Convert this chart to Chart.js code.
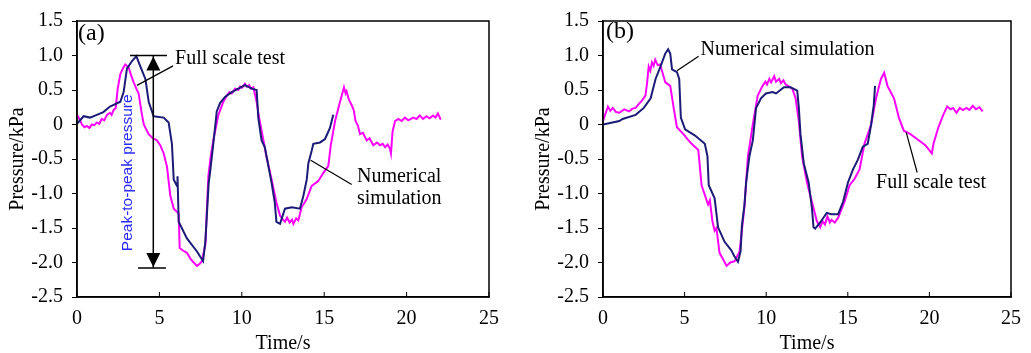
<!DOCTYPE html>
<html>
<head>
<meta charset="utf-8">
<script src="https://cdn.jsdelivr.net/npm/chart.js@4"></script>
<style>
  body { margin: 0; background: #fff; overflow: hidden; }
  #wrap { position: relative; width: 1031px; height: 353px; overflow: hidden; }
  canvas { position: absolute; top: 0; }
</style>
</head>
<body>
<div id="wrap">
  <canvas id="chartA" width="515" height="357" style="left:0"></canvas>
  <canvas id="chartB" width="505" height="357" style="left:526px"></canvas>
</div>
<script>
// axis ticks
const xTicks = [0, 5, 10, 15, 20, 25];
const yTicks = [-2.5, -2.0, -1.5, -1.0, -0.5, 0, 0.5, 1.0, 1.5];

// (a) full scale test
const timeTestA = [0, 0.15, 0.3, 0.45, 0.6, 0.75, 0.9, 1.05, 1.2, 1.35, 1.5, 1.65, 1.82, 2.0, 2.1, 2.22, 2.35, 2.47, 2.63, 2.8, 2.93, 3.13, 3.3, 3.44, 3.6, 3.74, 3.9, 4.05, 4.35, 4.6, 4.85, 5.05, 5.26, 5.46, 5.66, 5.87, 6.17, 6.23, 6.45, 6.67, 6.9, 7.08, 7.28, 7.45, 7.58, 7.79, 7.97, 8.12, 8.27, 8.58, 8.88, 9.1, 9.25, 9.39, 9.6, 9.79, 9.9, 10.0, 10.19, 10.3, 10.45, 10.55, 10.7, 10.9, 11.05, 11.2, 11.5, 11.81, 12.1, 12.32, 12.5, 12.62, 12.75, 12.9, 13.05, 13.13, 13.3, 13.43, 13.63, 13.94, 14.24, 14.64, 14.95, 15.25, 15.4, 15.66, 15.96, 16.2, 16.3, 16.36, 16.5, 16.67, 16.8, 16.9, 17.05, 17.17, 17.35, 17.58, 17.75, 17.98, 18.2, 18.39, 18.55, 18.7, 18.85, 18.99, 19.05, 19.15, 19.3, 19.5, 19.7, 19.9, 20.1, 20.4, 20.6, 20.8, 21.0, 21.2, 21.4, 21.6, 21.75, 21.9, 22.07];
const presTestA = [0.14, 0.08, 0.0, -0.04, -0.02, -0.05, 0.0, -0.01, 0.03, 0.01, 0.08, 0.06, 0.14, 0.17, 0.14, 0.21, 0.24, 0.52, 0.73, 0.82, 0.87, 0.83, 0.7, 0.61, 0.52, 0.45, 0.2, 0.0, -0.14, -0.2, -0.23, -0.3, -0.42, -0.61, -1.03, -1.22, -1.29, -1.79, -1.83, -1.86, -1.95, -2.0, -2.05, -2.02, -1.98, -1.74, -0.75, -0.45, -0.23, 0.14, 0.33, 0.42, 0.47, 0.45, 0.52, 0.5, 0.55, 0.53, 0.59, 0.55, 0.57, 0.52, 0.54, 0.33, 0.1, -0.09, -0.47, -0.8, -1.13, -1.32, -1.38, -1.41, -1.35, -1.42, -1.38, -1.44, -1.36, -1.39, -1.2, -1.08, -0.89, -0.82, -0.7, -0.6, -0.3, 0.05, 0.33, 0.54, 0.45, 0.48, 0.36, 0.28, 0.2, 0.05, -0.02, -0.14, -0.12, -0.23, -0.2, -0.3, -0.26, -0.3, -0.28, -0.33, -0.29, -0.35, -0.42, -0.1, 0.05, 0.08, 0.05, 0.1, 0.06, 0.1, 0.08, 0.13, 0.08, 0.12, 0.09, 0.13, 0.1, 0.16, 0.07];

// (a) numerical simulation
const timeSimA = [0, 0.4, 0.8, 1.2, 1.6, 2.0, 2.63, 2.83, 3.03, 3.34, 3.6, 3.83, 4.15, 4.35, 4.65, 5.26, 5.56, 5.76, 5.87, 6.07, 6.1, 6.17, 6.67, 7.28, 7.65, 7.79, 7.99, 8.07, 8.27, 8.48, 8.68, 8.98, 9.39, 9.79, 10.19, 10.6, 10.9, 11.0, 11.2, 11.4, 11.81, 12.0, 12.1, 12.32, 12.62, 13.03, 13.53, 13.74, 13.94, 14.04, 14.24, 14.34, 14.75, 15.05, 15.35, 15.55];
const presSimA = [0.01, 0.12, 0.1, 0.14, 0.18, 0.26, 0.33, 0.47, 0.81, 0.92, 0.99, 0.85, 0.66, 0.33, 0.12, 0.1, 0.03, -0.28, -0.8, -0.89, -0.75, -1.41, -1.65, -1.84, -1.98, -1.69, -0.85, -0.7, -0.28, 0.19, 0.31, 0.4, 0.47, 0.52, 0.57, 0.52, 0.5, 0.1, -0.23, -0.33, -0.85, -1.13, -1.41, -1.44, -1.22, -1.2, -1.22, -1.03, -0.8, -0.56, -0.38, -0.28, -0.26, -0.21, -0.05, 0.14];

// (b) full scale test
const timeTestB = [0, 0.3, 0.45, 0.6, 0.8, 1.0, 1.3, 1.6, 1.8, 2.0, 2.2, 2.4, 2.6, 2.7, 2.8, 2.9, 3.0, 3.1, 3.2, 3.35, 3.5, 3.82, 4.12, 4.33, 4.53, 4.93, 5.2, 5.43, 5.84, 6.04, 6.44, 6.55, 6.7, 6.84, 6.95, 7.14, 7.35, 7.57, 7.8, 8.07, 8.37, 8.67, 8.88, 9.18, 9.48, 9.78, 9.95, 10.05, 10.19, 10.3, 10.49, 10.6, 10.79, 10.9, 11.05, 11.19, 11.4, 11.6, 11.8, 12.0, 12.2, 12.5, 12.8, 13.1, 13.31, 13.45, 13.6, 13.75, 13.9, 14.0, 14.2, 14.41, 14.8, 15.11, 15.41, 15.72, 16.02, 16.43, 16.73, 17.03, 17.23, 17.43, 17.83, 18.13, 18.43, 18.84, 19.24, 19.75, 20.15, 20.25, 20.55, 20.85, 21.09, 21.3, 21.45, 21.66, 21.86, 22.05, 22.27, 22.45, 22.66, 22.85, 23.06, 23.26];
const presTestB = [0.05, 0.26, 0.2, 0.24, 0.18, 0.17, 0.22, 0.19, 0.23, 0.24, 0.3, 0.35, 0.42, 0.6, 0.84, 0.78, 0.9, 0.85, 0.94, 0.86, 0.87, 0.61, 0.56, 0.24, -0.04, -0.14, -0.22, -0.28, -0.37, -0.88, -1.16, -1.1, -1.4, -1.54, -1.5, -1.86, -1.95, -2.05, -2.0, -1.98, -1.84, -1.18, -0.46, 0.0, 0.42, 0.56, 0.62, 0.58, 0.66, 0.61, 0.7, 0.62, 0.66, 0.6, 0.64, 0.58, 0.55, 0.52, 0.38, 0.05, -0.46, -0.84, -1.12, -1.4, -1.49, -1.4, -1.45, -1.33, -1.42, -1.38, -1.42, -1.35, -1.12, -0.88, -0.79, -0.65, -0.28, 0.0, 0.38, 0.66, 0.75, 0.56, 0.38, 0.1, -0.09, -0.14, -0.21, -0.3, -0.42, -0.28, -0.04, 0.14, 0.26, 0.22, 0.24, 0.17, 0.24, 0.21, 0.24, 0.21, 0.27, 0.22, 0.25, 0.19];

// (b) numerical simulation
const timeSimB = [0, 1.0, 1.2, 2.0, 2.5, 2.92, 3.22, 3.52, 3.82, 3.99, 4.12, 4.23, 4.53, 4.67, 4.77, 5.03, 5.64, 6.24, 6.4, 6.48, 6.84, 7.05, 7.45, 7.85, 8.05, 8.27, 8.43, 8.51, 8.67, 8.77, 8.97, 9.18, 9.38, 9.68, 9.98, 10.39, 10.6, 11.09, 11.49, 11.9, 12.0, 12.1, 12.3, 12.6, 12.8, 12.9, 13.0, 13.31, 13.71, 13.99, 14.41, 14.71, 15.01, 15.32, 15.62, 15.92, 16.22, 16.43, 16.59, 16.67];
const presSimB = [0.0, 0.05, 0.08, 0.14, 0.24, 0.38, 0.66, 0.84, 1.03, 1.09, 1.03, 0.8, 0.76, 0.66, 0.1, -0.07, -0.16, -0.28, -0.46, -0.88, -1.07, -1.49, -1.7, -1.82, -1.91, -1.99, -1.84, -1.47, -1.16, -0.84, -0.46, -0.23, 0.24, 0.38, 0.45, 0.47, 0.45, 0.54, 0.54, 0.49, 0.24, -0.14, -0.56, -0.84, -1.21, -1.49, -1.51, -1.42, -1.28, -1.3, -1.3, -1.12, -0.84, -0.65, -0.51, -0.32, -0.28, 0.0, 0.28, 0.56];

const TEST_COLOR = '#ff00ff';
const SIM_COLOR = '#1c1c78';
const SERIF = '"Liberation Serif", "Times New Roman", serif';

function pts(xs, ys) {
  return xs.map((x, i) => ({ x, y: ys[i] }));
}

// frame, inward x ticks and the text notes
const notesPlugin = {
  id: 'notes',
  afterDraw(chart) {
    const ctx = chart.ctx;
    const { x, y } = chart.scales;
    const a = chart.chartArea;
    const notes = chart.options.plugins.notes;
    ctx.save();
    ctx.strokeStyle = '#000';
    ctx.lineWidth = 1.5;
    ctx.strokeRect(a.left, a.top, a.right - a.left, a.bottom - a.top);
    ctx.lineWidth = 1;
    xTicks.forEach(t => {
      const px = x.getPixelForValue(t);
      ctx.beginPath();
      ctx.moveTo(px, a.bottom);
      ctx.lineTo(px, a.bottom - 5);
      ctx.stroke();
    });

    const P = (dx, dy) => [x.getPixelForValue(dx), y.getPixelForValue(dy)];
    ctx.fillStyle = '#000';
    ctx.textBaseline = 'middle';
    ctx.textAlign = 'left';
    ctx.font = '24px ' + SERIF;
    ctx.fillText(notes.label[0], ...P(notes.label[1], notes.label[2]));

    ctx.font = '20px ' + SERIF;
    notes.texts.forEach(t => ctx.fillText(t[0], ...P(t[1], t[2])));
    ctx.lineWidth = 1.2;
    notes.leaders.forEach(l => {
      ctx.beginPath();
      ctx.moveTo(...P(l[0], l[1]));
      ctx.lineTo(...P(l[2], l[3]));
      ctx.stroke();
    });

    if (notes.peak) {
      const pk = notes.peak;
      const [cx, top] = P(pk.x, pk.top);
      const bot = y.getPixelForValue(pk.bottom);
      ctx.lineWidth = 1.5;
      ctx.beginPath();
      ctx.moveTo(x.getPixelForValue(pk.topSpan[0]), top);
      ctx.lineTo(x.getPixelForValue(pk.topSpan[1]), top);
      ctx.moveTo(x.getPixelForValue(pk.botSpan[0]), bot);
      ctx.lineTo(x.getPixelForValue(pk.botSpan[1]), bot);
      ctx.moveTo(cx, top);
      ctx.lineTo(cx, bot);
      ctx.stroke();
      ctx.beginPath();
      ctx.moveTo(cx, top + 1);
      ctx.lineTo(cx - 7, top + 15);
      ctx.lineTo(cx + 7, top + 15);
      ctx.closePath();
      ctx.moveTo(cx, bot - 1);
      ctx.lineTo(cx - 7, bot - 15);
      ctx.lineTo(cx + 7, bot - 15);
      ctx.closePath();
      ctx.fill();
      const [tx, ty] = P(pk.textAt[0], pk.textAt[1]);
      ctx.translate(tx, ty);
      ctx.rotate(-Math.PI / 2);
      ctx.textAlign = 'center';
      ctx.fillStyle = '#2a2aff';
      ctx.font = '15.5px "Liberation Sans", Arial, sans-serif';
      ctx.fillText('Peak-to-peak pressure', 0, 0);
    }
    ctx.restore();
  }
};

function makeChart(id, testX, testY, simX, simY, padding, notes) {
  return new Chart(document.getElementById(id), {
    type: 'line',
    data: {
      datasets: [
        { label: 'Full scale test', data: pts(testX, testY), borderColor: TEST_COLOR, borderWidth: 2, pointRadius: 0, fill: false, order: 2 },
        { label: 'Numerical simulation', data: pts(simX, simY), borderColor: SIM_COLOR, borderWidth: 2, pointRadius: 0, fill: false, order: 1 }
      ]
    },
    options: {
      responsive: false,
      animation: false,
      layout: { padding },
      plugins: { legend: { display: false }, tooltip: { enabled: false }, notes },
      scales: {
        x: {
          type: 'linear', min: 0, max: 25,
          afterBuildTicks: s => { s.ticks = xTicks.map(v => ({ value: v })); },
          afterFit: s => { s.height = 60; },
          grid: { drawOnChartArea: false, drawTicks: false },
          border: { color: '#000', width: 1.5 },
          ticks: { color: '#000', padding: 10, font: { family: SERIF, size: 20 } },
          title: { display: true, text: 'Time/s', color: '#000', padding: { top: 0, bottom: 1 }, font: { family: SERIF, size: 20 } }
        },
        y: {
          min: -2.5, max: 1.5,
          afterBuildTicks: s => { s.ticks = yTicks.map(v => ({ value: v })); },
          afterFit: s => { s.width = 77; },
          grid: { drawOnChartArea: false, drawTicks: true, tickLength: 5, color: '#000' },
          border: { color: '#000', width: 1.5 },
          ticks: { color: '#000', padding: 9, font: { family: SERIF, size: 20 },
            callback: v => v === 0 ? '0' : v.toFixed(1) },
          title: { display: true, text: 'Pressure/kPa', color: '#000', padding: { top: 6, bottom: 0 }, font: { family: SERIF, size: 20 } }
        }
      }
    },
    plugins: [notesPlugin]
  });
}

makeChart('chartA', timeTestA, presTestA, timeSimA, presSimA,
  { top: 14, right: 26, left: 0, bottom: 0 },
  {
    label: ['(a)', 0.06, 1.32],
    texts: [['Full scale test', 5.95, 0.96], ['Numerical', 16.99, -0.75], ['simulation', 16.99, -1.077]],
    leaders: [[3.64, 0.567, 5.83, 0.85], [14.18, -0.517, 16.67, -0.87]],
    peak: { x: 4.63, top: 1.0, bottom: -2.08, topSpan: [3.22, 5.46], botSpan: [3.7, 5.4], textAt: [3.09, -0.7] }
  });

makeChart('chartB', timeTestB, presTestB, timeSimB, presSimB,
  { top: 12, right: 14, left: 0, bottom: 0 },
  {
    label: ['(b)', 0.18, 1.34],
    texts: [['Numerical simulation', 5.98, 1.09], ['Full scale test', 16.73, -0.85]],
    leaders: [[4.53, 0.779, 5.86, 0.99], [18.58, -0.113, 19.25, -0.696]],
    peak: null
  });
</script>
</body>
</html>
